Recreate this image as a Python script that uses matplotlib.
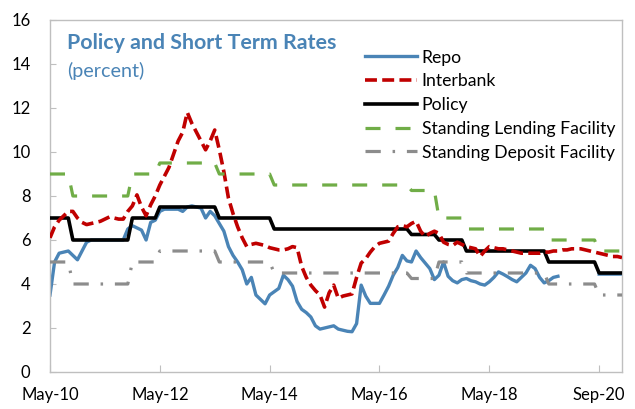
import numpy as np
import matplotlib
matplotlib.use("Agg")
import matplotlib.pyplot as plt

plt.rcParams['font.family'] = ['Lato', 'DejaVu Sans']
plt.rcParams['lines.scale_dashes'] = False

# ---- data (monthly, May-2010 onward) ----
repo = [3.5, 5.0, 5.4, 5.45, 5.5, 5.3, 5.1, 5.5, 5.9, 6.0,
        6.0, 6.0, 6.0, 6.0, 6.0, 6.0, 6.0, 6.5, 6.65, 6.55,
        6.45, 6.0, 6.8, 6.9, 7.3, 7.4, 7.4, 7.4, 7.4, 7.3,
        7.5, 7.55, 7.5, 7.45, 7.0, 7.3, 7.1, 6.75, 6.4, 5.7,
        5.3, 5.0, 4.65, 4.0, 4.3, 3.5, 3.3, 3.1, 3.5, 3.65,
        3.8, 4.4, 4.2, 3.9, 3.2, 2.85, 2.7, 2.5, 2.1, 1.95,
        2.0, 2.05, 2.1, 1.95, 1.9, 1.85, 1.83, 2.2, 3.95, 3.45,
        3.12, 3.12, 3.12, 3.5, 3.9, 4.4, 4.75, 5.3, 5.05, 5.0,
        5.5, 5.2, 4.95, 4.7, 4.2, 4.4, 5.0, 4.35, 4.15, 4.05,
        4.2, 4.25, 4.15, 4.1, 4.0, 3.95, 4.1, 4.3, 4.55, 4.45,
        4.33, 4.2, 4.1, 4.3, 4.5, 4.85, 4.7, 4.3, 4.05, 4.15,
        4.3, 4.35, None, None, None, None, None, None, None, None,
        4.45, 4.45, 4.45, 4.45, 4.45, 4.45]

interbank = [6.1, 6.6, 6.9, 7.1, 7.3, 7.3, 7.0, 6.8, 6.7, 6.75,
             6.8, 6.85, 6.95, 7.05, 7.0, 6.95, 6.95, 7.3, 7.55, 8.05,
             7.5, 7.1, 7.6, 8.0, 8.5, 8.9, 9.3, 9.9, 10.5, 10.9,
             11.8, 11.3, 10.9, 10.5, 10.1, 10.5, 11.0, 10.1, 9.1, 7.9,
             7.2, 6.6, 6.1, 5.7, 5.8, 5.85, 5.8, 5.75, 5.65, 5.6,
             5.55, 5.55, 5.6, 5.7, 5.65, 4.8, 4.3, 3.95, 3.7, 3.5,
             2.95, 3.6, 3.95, 3.35, 3.45, 3.5, 3.55, 4.3, 4.95, 5.15,
             5.45, 5.7, 5.85, 5.9, 5.95, 6.3, 6.6, 6.65, 6.6, 6.75,
             6.85, 6.4, 6.15, 6.3, 6.4, 6.3, 5.9, 5.8, 5.75, 5.9,
             5.8, 5.7, 5.65, 5.6, 5.25, 5.5, 5.7, 5.65, 5.6, 5.6,
             5.55, 5.5, 5.45, 5.4, 5.4, 5.4, 5.4, 5.4, 5.45, 5.45,
             5.5, 5.5, 5.55, 5.55, 5.6, 5.6, 5.6, 5.55, 5.5, 5.45,
             5.4, 5.35, 5.3, 5.25, 5.25, 5.2]

# step rates: (value, number of months)
policy_steps = [(7.0, 5), (6.0, 13), (7.0, 6), (7.5, 13), (7.0, 12), (6.5, 30),
                (6.25, 6), (6.0, 6), (5.5, 18), (5.0, 11), (4.5, 6)]
slf_steps = [(9.0, 5), (8.0, 13), (9.0, 6), (9.5, 13), (9.0, 12), (8.5, 30),
             (8.25, 6), (7.0, 6), (6.5, 18), (6.0, 11), (5.5, 6)]
sdf_steps = [(5.0, 5), (4.0, 13), (5.0, 6), (5.5, 13), (5.0, 12), (4.5, 30),
             (4.25, 6), (5.0, 6), (4.5, 18), (4.0, 11), (3.5, 6)]

tick_labels = ["May-10", "May-12", "May-14", "May-16", "May-18", "Sep-20"]
tick_months = [0, 24, 48, 72, 96, 120]

labels = ["Repo", "Interbank", "Policy", "Standing Lending Facility",
          "Standing Deposit Facility"]


def expand(steps):
    out = []
    for v, n in steps:
        out += [v] * n
    return out


policy = expand(policy_steps)
slf = expand(slf_steps)
sdf = expand(sdf_steps)

x = np.arange(len(interbank))
repo_arr = np.array([np.nan if v is None else v for v in repo], dtype=float)

fig = plt.figure(figsize=(6.35, 4.09), dpi=100)
ax = fig.add_axes([50 / 635, 37 / 409, 572 / 635, 352 / 409])

c_blue = "#4A84B6"
c_red = "#C00000"
c_green = "#70AD47"
c_gray = "#8C8C8C"

l1, = ax.plot(x, repo_arr, color=c_blue, lw=2.4, solid_joinstyle='round', zorder=2)
l3, = ax.plot(x, policy, color="black", lw=2.6, zorder=3)
l2, = ax.plot(x, interbank, color=c_red, lw=2.6, dashes=(8.6, 3.8), zorder=4)
l4, = ax.plot(x, slf, color=c_green, lw=2.3, dashes=(10.8, 10.8), zorder=5)
l5, = ax.plot(x, sdf, color=c_gray, lw=2.3, dashes=(11.0, 8.5, 1.8, 8.5), zorder=6)

ax.set_xlim(0, 125)
ax.set_ylim(0, 16)
ax.set_yticks(np.arange(0, 17, 2))
ax.set_xticks(tick_months)
ax.set_xticklabels(tick_labels)

for s in ax.spines.values():
    s.set_color("#BFBFBF")
    s.set_linewidth(1.0)
ax.tick_params(axis='y', direction='in', length=4, color="#BFBFBF", pad=14,
               labelsize=12)
ax.tick_params(axis='x', direction='in', length=5, color="#BFBFBF", pad=11,
               labelsize=12)

fig.text(67 / 635, 1 - 49 / 409, "Policy and Short Term Rates", color="#4A84B6",
         fontsize=15.4, fontweight='bold', va='baseline', ha='left')
fig.text(67 / 635, 1 - 77 / 409, "(percent)", color="#4A84B6",
         fontsize=14.2, va='baseline', ha='left')

leg = ax.legend([l1, l2, l3, l4, l5], labels, loc='upper left',
                bbox_to_anchor=(365 / 635, 1 - 49.5 / 409),
                bbox_transform=fig.transFigure, frameon=False,
                fontsize=12.7, handlelength=2.95, handletextpad=0.27,
                labelspacing=0.44, borderpad=0, borderaxespad=0)

fig.savefig("out.png", dpi=100)
